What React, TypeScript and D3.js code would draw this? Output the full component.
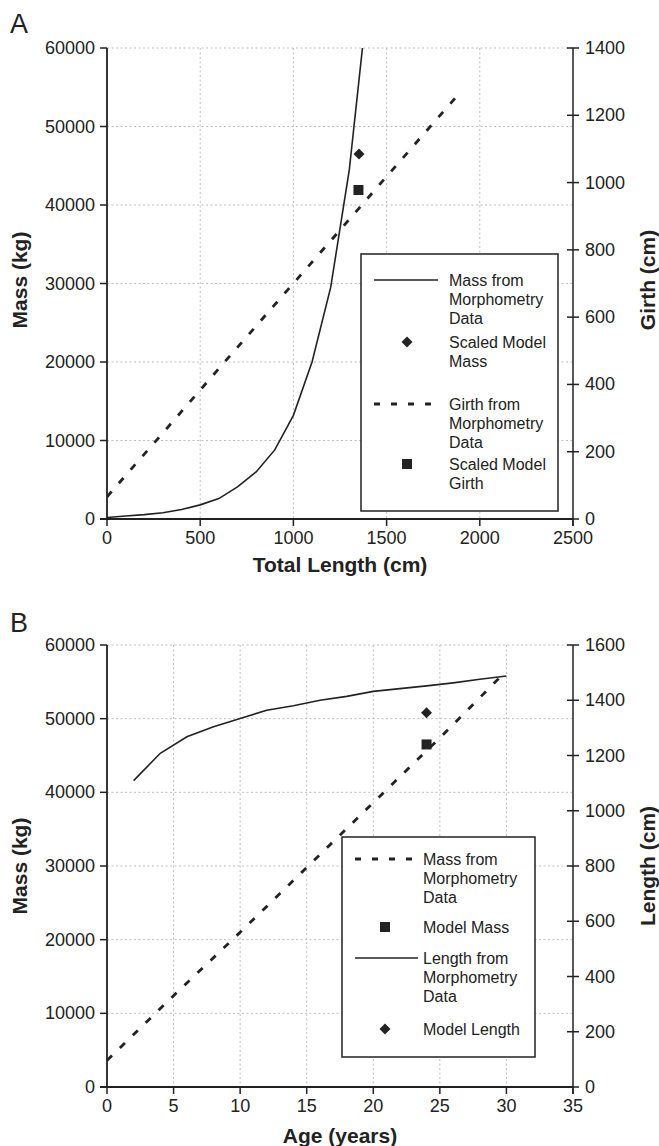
import React from "react";
import * as d3 from "d3";

// ---------- Panel A data ----------
const lengthA = [0, 100, 200, 300, 400, 500, 600, 700, 800, 900, 1000, 1100, 1200, 1300, 1400];
const massA = [200, 380, 560, 800, 1200, 1800, 2600, 4100, 6000, 8800, 13200, 20000, 29500, 44500, 66500];
const girthLenA = [0, 300, 600, 900, 1200, 1500, 1890];
const girthA = [66, 256, 447, 637, 827, 1018, 1265];
const modelMassLenA = [1352];
const modelMassA = [46500];
const modelGirthLenA = [1349];
const modelGirthA = [978];
const xTicksA = [0, 500, 1000, 1500, 2000, 2500];
const yTicksA = [0, 10000, 20000, 30000, 40000, 50000, 60000];
const rTicksA = [0, 200, 400, 600, 800, 1000, 1200, 1400];
const legendA = [
  { kind: "solid", lines: ["Mass from", "Morphometry", "Data"] },
  { kind: "diamond", lines: ["Scaled Model", "Mass"] },
  { kind: "dashed", lines: ["Girth from", "Morphometry", "Data"] },
  { kind: "square", lines: ["Scaled Model", "Girth"] },
];

// ---------- Panel B data ----------
const ageLenB = [2, 4, 6, 8, 10, 12, 14, 16, 18, 20, 22, 24, 26, 28, 30];
const lengthB = [1109, 1208, 1268, 1304, 1334, 1364, 1380, 1400, 1414, 1432, 1442, 1452, 1463, 1476, 1488];
const ageMassB = [0, 5, 10, 15, 20, 25, 30];
const massB = [3600, 12400, 21000, 29800, 38600, 47400, 56500];
const modelAgeB = [24];
const modelMassB = [46500];
const modelLengthB = [1355];
const xTicksB = [0, 5, 10, 15, 20, 25, 30, 35];
const yTicksB = [0, 10000, 20000, 30000, 40000, 50000, 60000];
const rTicksB = [0, 200, 400, 600, 800, 1000, 1200, 1400, 1600];
const legendB = [
  { kind: "dashed", lines: ["Mass from", "Morphometry", "Data"] },
  { kind: "square", lines: ["Model Mass"] },
  { kind: "solid", lines: ["Length from", "Morphometry", "Data"] },
  { kind: "diamond", lines: ["Model Length"] },
];

const FONT = "'Liberation Sans', Arial, Helvetica, sans-serif";
const INK = "#222";
const DASH = "7,11";

type Entry = { kind: string; lines: string[] };

function Marker({ kind, x, y }: { kind: string; x: number; y: number }) {
  if (kind === "square") {
    const p = d3.symbol(d3.symbolSquare, 100)() as string;
    return <path d={p} transform={`translate(${x},${y})`} fill={INK} />;
  }
  const p = d3.symbol(d3.symbolSquare, 60)() as string;
  return <path d={p} transform={`translate(${x},${y}) rotate(45)`} fill={INK} />;
}

function Legend({
  entries, x, y, w, h, offsets, sample, symX, textX, lh,
}: {
  entries: Entry[]; x: number; y: number; w: number; h: number; offsets: number[];
  sample: [number, number]; symX: number; textX: number; lh: number;
}) {
  return (
    <g>
      <rect x={x} y={y} width={w} height={h} fill="#fff" stroke={INK} strokeWidth={1.5} />
      {entries.map((e, i) => {
        const ey = y + offsets[i];
        return (
          <g key={i}>
            {e.kind === "solid" && (
              <line x1={x + sample[0]} x2={x + sample[1]} y1={ey} y2={ey} stroke={INK} strokeWidth={1.5} />
            )}
            {e.kind === "dashed" && (
              <line x1={x + sample[0]} x2={x + sample[1]} y1={ey} y2={ey} stroke={INK} strokeWidth={2.8} strokeDasharray="6,11" />
            )}
            {(e.kind === "square" || e.kind === "diamond") && <Marker kind={e.kind} x={x + symX} y={ey} />}
            {e.lines.map((t, j) => (
              <text key={j} x={x + textX} y={ey + j * lh} dominantBaseline="central" fontSize={16} fill={INK} fontFamily={FONT}>
                {t}
              </text>
            ))}
          </g>
        );
      })}
    </g>
  );
}

function Panel(props: {
  id: string; label: string; labelY: number;
  top: number; bottom: number; xDomain: [number, number]; rMax: number;
  xTicks: number[]; yTicks: number[]; rTicks: number[];
  xTitle: string; xTitleY: number; yTitle: string; rTitle: string; titleCY: number;
  children: (s: { x: d3.ScaleLinear<number, number>; yL: d3.ScaleLinear<number, number>; yR: d3.ScaleLinear<number, number> }) => React.ReactNode;
}) {
  const L = 107, R = 573;
  const x = d3.scaleLinear().domain(props.xDomain).range([L, R]);
  const yL = d3.scaleLinear().domain([0, 60000]).range([props.bottom, props.top]);
  const yR = d3.scaleLinear().domain([0, props.rMax]).range([props.bottom, props.top]);
  const grid = "#bdbdbd";
  return (
    <g>
      <defs>
        <clipPath id={`clip-${props.id}`}>
          <rect x={L} y={props.top} width={R - L} height={props.bottom - props.top} />
        </clipPath>
      </defs>
      <text x={10} y={props.labelY} fontSize={27} fill={INK} fontFamily={FONT}>{props.label}</text>
      {/* grid */}
      {props.xTicks.slice(1, -1).map((t) => (
        <line key={`gx${t}`} x1={x(t)} x2={x(t)} y1={props.top} y2={props.bottom} stroke={grid} strokeDasharray="2,2.5" strokeWidth={1} />
      ))}
      {props.yTicks.slice(1).map((t) => (
        <line key={`gy${t}`} x1={L} x2={R} y1={yL(t)} y2={yL(t)} stroke={grid} strokeDasharray="2,2.5" strokeWidth={1} />
      ))}
      {/* axes */}
      <line x1={L} x2={L} y1={props.top} y2={props.bottom} stroke={INK} strokeWidth={1.8} />
      <line x1={R} x2={R} y1={props.top} y2={props.bottom + 7} stroke={INK} strokeWidth={1.5} />
      <line x1={L - 7} x2={R} y1={props.bottom} y2={props.bottom} stroke={INK} strokeWidth={1.8} />
      {props.yTicks.map((t) => (
        <g key={`yt${t}`}>
          <line x1={L - 7} x2={L} y1={yL(t)} y2={yL(t)} stroke={INK} strokeWidth={1.5} />
          <text x={L - 12} y={yL(t)} textAnchor="end" dominantBaseline="central" fontSize={18} fill={INK} fontFamily={FONT}>{t}</text>
        </g>
      ))}
      {props.rTicks.map((t) => (
        <g key={`rt${t}`}>
          <line x1={R - 6} x2={R + 6} y1={yR(t)} y2={yR(t)} stroke={INK} strokeWidth={1.5} />
          <text x={R + 12} y={yR(t)} dominantBaseline="central" fontSize={18} fill={INK} fontFamily={FONT}>{t}</text>
        </g>
      ))}
      {props.xTicks.map((t) => (
        <g key={`xt${t}`}>
          <line x1={x(t)} x2={x(t)} y1={props.bottom} y2={props.bottom + 7} stroke={INK} strokeWidth={1.5} />
          <text x={x(t)} y={props.bottom + 19} textAnchor="middle" dominantBaseline="central" fontSize={18} fill={INK} fontFamily={FONT}>{t}</text>
        </g>
      ))}
      <text x={(L + R) / 2} y={props.xTitleY} textAnchor="middle" fontSize={21} fontWeight="bold" fill={INK} fontFamily={FONT}>{props.xTitle}</text>
      <text transform={`translate(27,${props.titleCY}) rotate(-90)`} textAnchor="middle" fontSize={21} fontWeight="bold" fill={INK} fontFamily={FONT}>{props.yTitle}</text>
      <text transform={`translate(655,${props.titleCY}) rotate(-90)`} textAnchor="middle" fontSize={21} fontWeight="bold" fill={INK} fontFamily={FONT}>{props.rTitle}</text>
      <g clipPath={`url(#clip-${props.id})`}>{props.children({ x, yL, yR })}</g>
    </g>
  );
}

export default function App() {
  const lineGen = (xs: number[], ys: number[], sx: (v: number) => number, sy: (v: number) => number) =>
    d3.line<number>().x((_, i) => sx(xs[i])).y((_, i) => sy(ys[i]))(xs) as string;

  return (
    <svg width={659} height={1146} style={{ position: "absolute", left: 0, top: 0, background: "#fff" }}>
      <rect width={659} height={1146} fill="#fff" />
      <Panel
        id="A" label="A" labelY={33} top={48} bottom={519} xDomain={[0, 2500]} rMax={1400}
        xTicks={xTicksA} yTicks={yTicksA} rTicks={rTicksA}
        xTitle="Total Length (cm)" xTitleY={572} yTitle="Mass (kg)" rTitle="Girth (cm)" titleCY={280}
      >
        {({ x, yL, yR }) => (
          <g>
            <path d={lineGen(lengthA, massA, x, yL)} fill="none" stroke={INK} strokeWidth={1.6} />
            <path d={lineGen(girthLenA, girthA, x, yR)} fill="none" stroke={INK} strokeWidth={2.8} strokeDasharray={DASH} />
            {modelMassLenA.map((v, i) => <Marker key={`mm${i}`} kind="diamond" x={x(v)} y={yL(modelMassA[i])} />)}
            {modelGirthLenA.map((v, i) => <Marker key={`mg${i}`} kind="square" x={x(v)} y={yR(modelGirthA[i])} />)}
          </g>
        )}
      </Panel>
      <Legend entries={legendA} x={361} y={254} w={197} h={257} offsets={[26, 88, 150, 210]}
        sample={[13, 77]} symX={46} textX={88} lh={19.3} />

      <Panel
        id="B" label="B" labelY={632} top={645} bottom={1087} xDomain={[0, 35]} rMax={1600}
        xTicks={xTicksB} yTicks={yTicksB} rTicks={rTicksB}
        xTitle="Age (years)" xTitleY={1143} yTitle="Mass (kg)" rTitle="Length (cm)" titleCY={866}
      >
        {({ x, yL, yR }) => (
          <g>
            <path d={lineGen(ageLenB, lengthB, x, yR)} fill="none" stroke={INK} strokeWidth={1.6} />
            <path d={lineGen(ageMassB, massB, x, yL)} fill="none" stroke={INK} strokeWidth={2.8} strokeDasharray={DASH} />
            {modelAgeB.map((v, i) => <Marker key={`bl${i}`} kind="diamond" x={x(v)} y={yR(modelLengthB[i])} />)}
            {modelAgeB.map((v, i) => <Marker key={`bm${i}`} kind="square" x={x(v)} y={yL(modelMassB[i])} />)}
          </g>
        )}
      </Panel>
      <Legend entries={legendB} x={342} y={837} w={193} h={220} offsets={[22, 90, 121, 192]}
        sample={[13, 76]} symX={43} textX={81} lh={19} />
    </svg>
  );
}
